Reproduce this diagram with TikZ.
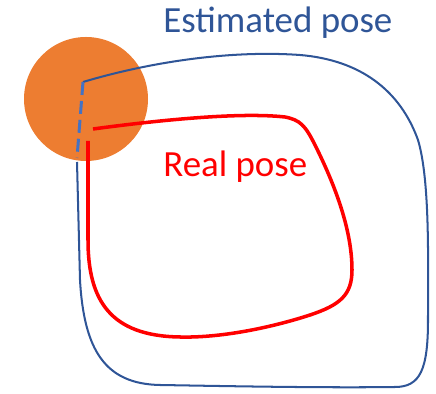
\documentclass[tikz,border=0pt]{standalone}
\usepackage{fontspec}
\setmainfont{Carlito}
\usepackage{xcolor}
\usepackage{tikz}
\definecolor{estblue}{RGB}{47, 85, 151}
\definecolor{dashblue}{RGB}{68, 114, 196}
\definecolor{bloborange}{RGB}{237, 125, 49}
\definecolor{realred}{RGB}{255, 0, 0}

\begin{document}
\begin{tikzpicture}[x=0.02cm, y=-0.02cm, every node/.style={font=\fontsize{21}{25}\selectfont, inner sep=0pt, anchor=base west}]
    \useasboundingbox (0,0) rectangle (436,394);

    % Uncertainty blob
    \fill[bloborange] (86,99) circle (62);

    % Estimated trajectory
    \draw[estblue, line width=1.15pt, line join=round]
        (83,82) .. controls (150,62) and (230,50) .. (300,55)
        .. controls (360,60) and (400,90) .. (418,140)
        .. controls (430,180) and (428,260) .. (428,320)
        .. controls (428,370) and (420,387) .. (395,387)
        .. controls (320,388) and (220,386) .. (160,385)
        .. controls (105,384) and (84,350) .. (80,280)
        -- (77,162);
    \draw[dashblue, line width=1.7pt, dash pattern=on 7.4pt off 3.4pt] (83,82) -- (77,158);

    % Real trajectory
    \draw[realred, line width=2pt, line join=round]
        (93,129) .. controls (160,120) and (240,112) .. (285,117)
        .. controls (300,120) and (305,125) .. (315,145)
        .. controls (335,185) and (352,230) .. (352,270)
        .. controls (352,295) and (340,305) .. (310,315)
        .. controls (270,328) and (220,338) .. (180,337)
        .. controls (110,336) and (88,300) .. (88,240)
        -- (88,141);

    % Labels
    \node[color=estblue] (estlabel) at (163,33) {Estimated pose};
    \node[color=realred] (reallabel) at (163,177) {Real pose};
\end{tikzpicture}
\end{document}
